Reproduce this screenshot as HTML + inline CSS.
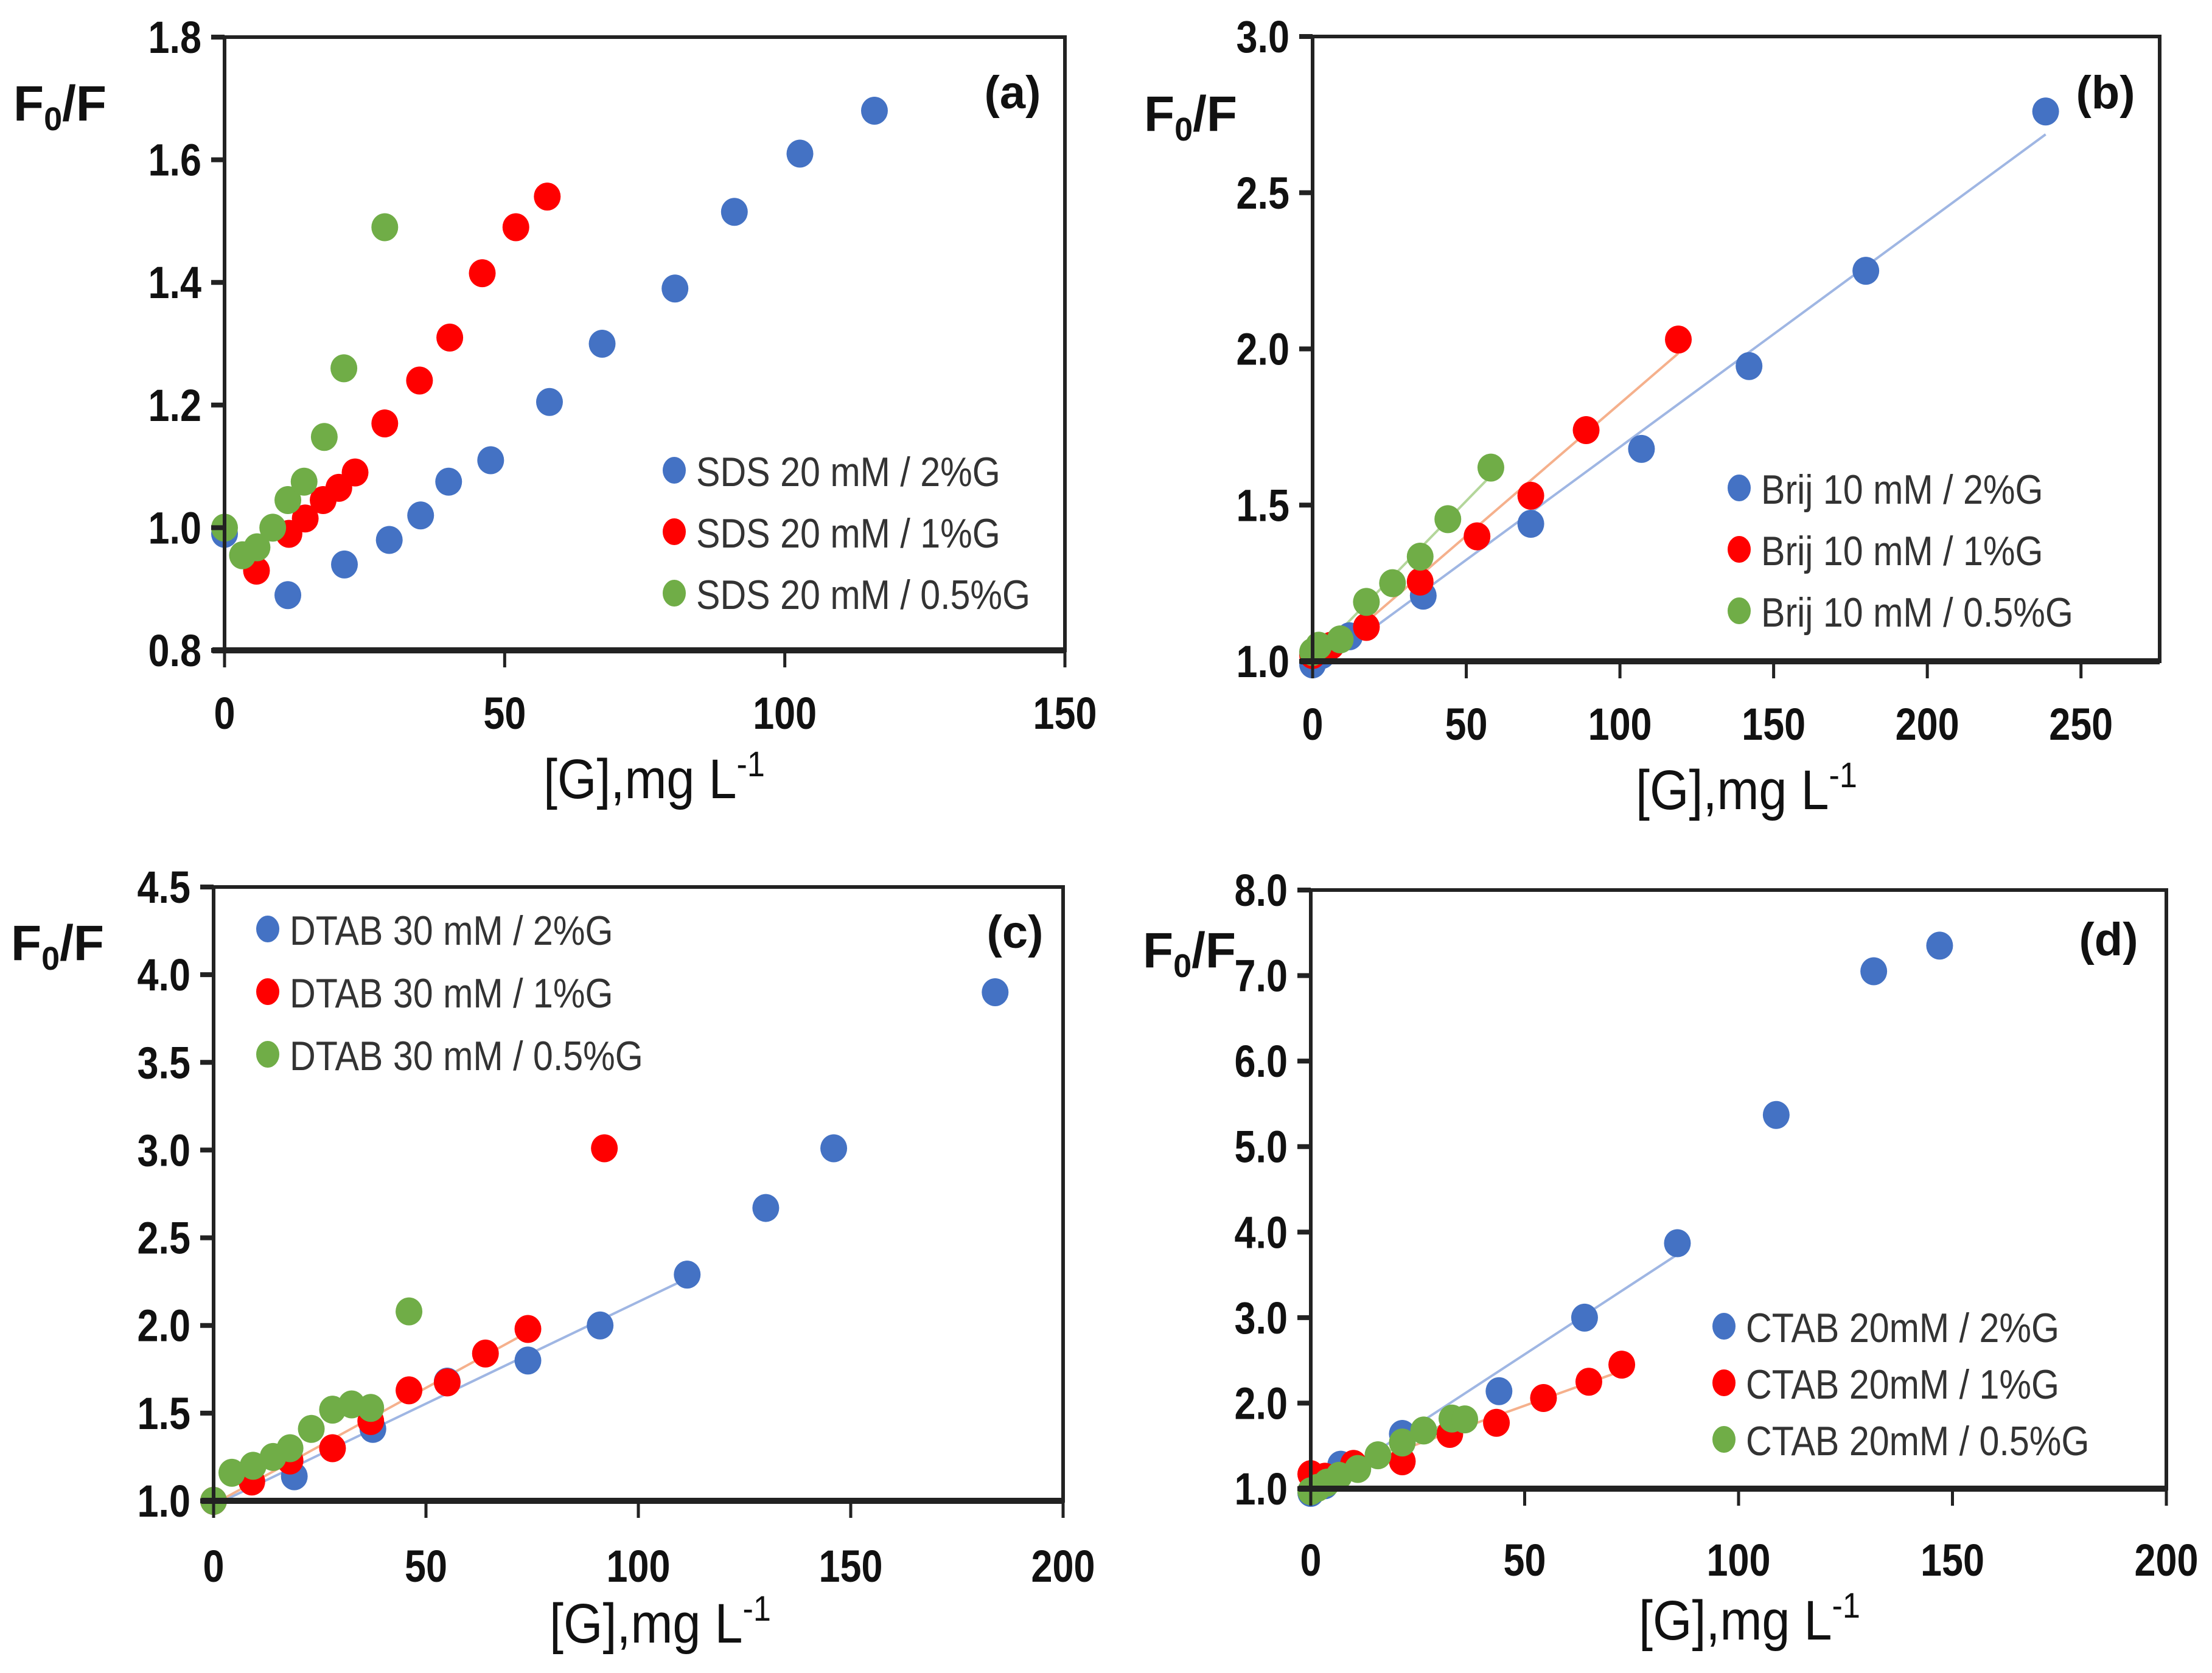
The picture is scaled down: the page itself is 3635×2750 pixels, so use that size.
<!DOCTYPE html>
<html><head><meta charset="utf-8">
<style>
html,body{margin:0;padding:0;background:#fff;}
svg{display:block;}
text{font-family:"Liberation Sans",sans-serif;fill:#111;}
.tick{font-size:74px;font-weight:bold;}
.leg{font-size:68px;fill:#333;}
.ttl{font-size:92px;}
.yl{font-size:82px;font-weight:bold;}
.pl{font-size:76px;font-weight:bold;}
</style></head>
<body>
<svg id="fig" width="3635" height="2750" viewBox="0 0 3635 2750" xmlns="http://www.w3.org/2000/svg">
<rect x="0" y="0" width="3635" height="2750" fill="#fff"/>
</svg>
<script>
// ---------- Panel (a) SDS ----------
const aLegend = ["SDS 20 mM / 2%G","SDS 20 mM / 1%G","SDS 20 mM / 0.5%G"];
const aBlueX = [0,11.3,21.4,29.4,35,40,47.5,58,67.4,80.4,91,102.7,116];
const aBlueY = [0.99,0.89,0.94,0.98,1.02,1.075,1.11,1.205,1.30,1.39,1.515,1.61,1.68];
const aRedX = [5.7,11.5,14.4,17.6,20.4,23.3,28.6,34.8,40.2,46,52,57.6];
const aRedY = [0.93,0.99,1.015,1.045,1.065,1.09,1.17,1.24,1.31,1.415,1.49,1.54];
const aGreenX = [0,3.2,5.8,8.6,11.3,14.2,17.8,21.3,28.6];
const aGreenY = [1.0,0.955,0.968,1.0,1.045,1.075,1.148,1.26,1.49];
const aXTicks = [0,50,100,150];
const aYTicks = ["0.8","1.0","1.2","1.4","1.6","1.8"];
// ---------- Panel (b) Brij ----------
const bLegend = ["Brij 10 mM / 2%G","Brij 10 mM / 1%G","Brij 10 mM / 0.5%G"];
const bBlueX = [0,3,12,36,71,107,142,180,238.5];
const bBlueY = [0.99,1.02,1.08,1.21,1.44,1.68,1.945,2.25,2.76];
const bRedX = [0,6,17.5,35,53.5,71,89,119];
const bRedY = [1.02,1.05,1.11,1.255,1.40,1.53,1.74,2.03];
const bGreenX = [0,2,9,17.5,26,35,44,58];
const bGreenY = [1.03,1.05,1.07,1.19,1.25,1.335,1.455,1.62];
const bXTicks = [0,50,100,150,200,250];
const bYTicks = ["1.0","1.5","2.0","2.5","3.0"];
// ---------- Panel (c) DTAB ----------
const cLegend = ["DTAB 30 mM / 2%G","DTAB 30 mM / 1%G","DTAB 30 mM / 0.5%G"];
const cBlueX = [0,19,37.5,55,74,91,111.5,130,146,184];
const cBlueY = [1.0,1.14,1.41,1.68,1.80,2.0,2.29,2.67,3.01,3.90];
const cRedX = [0,9,18,28,37,46,55,64,74,92];
const cRedY = [1.0,1.11,1.23,1.30,1.455,1.63,1.675,1.84,1.98,3.01];
const cGreenX = [0,4.3,9.3,14,18,23,28,32.5,37,46];
const cGreenY = [1.0,1.16,1.2,1.25,1.30,1.41,1.52,1.55,1.53,2.08];
const cXTicks = [0,50,100,150,200];
const cYTicks = ["1.0","1.5","2.0","2.5","3.0","3.5","4.0","4.5"];
// ---------- Panel (d) CTAB ----------
const dLegend = ["CTAB 20mM / 2%G","CTAB 20mM / 1%G","CTAB 20mM / 0.5%G"];
const dBlueX = [0,3.3,7,21.4,44,64,85.7,108.8,131.6,147];
const dBlueY = [0.95,1.04,1.28,1.64,2.14,3.0,3.87,5.37,7.05,7.35];
const dRedX = [0,3.3,10,21.4,32.5,43.4,54.4,65,72.7];
const dRedY = [1.17,1.14,1.29,1.32,1.64,1.77,2.06,2.25,2.45];
const dGreenX = [0,1.6,3.8,6.6,11,15.7,21.4,26.4,33,36];
const dGreenY = [0.97,1.01,1.07,1.15,1.23,1.39,1.54,1.68,1.82,1.81];
const dXTicks = [0,50,100,150,200];
const dYTicks = ["1.0","2.0","3.0","4.0","5.0","6.0","7.0","8.0"];

const NS = "http://www.w3.org/2000/svg";
const svg = document.getElementById("fig");
const BLUE="#4472C4", RED="#FF0000", GREEN="#70AD47";
const LBLUE="#9fb6e3", LRED="#f5b08c", LGREEN="#b3d69a";

function mk(tag, attrs, parent){
  const e=document.createElementNS(NS,tag);
  for(const k in attrs) e.setAttribute(k,attrs[k]);
  (parent||svg).appendChild(e); return e;
}
function condense(t,f){
  const w=t.getComputedTextLength();
  if(w>0){t.setAttribute("textLength",w*f);t.setAttribute("lengthAdjust","spacingAndGlyphs");}
}
function fit(xs,ys){
  const n=xs.length; let sx=0,sy=0,sxx=0,sxy=0;
  for(let i=0;i<n;i++){sx+=xs[i];sy+=ys[i];sxx+=xs[i]*xs[i];sxy+=xs[i]*ys[i];}
  const m=(n*sxy-sx*sy)/(n*sxx-sx*sx); return [m,(sy-m*sx)/n];
}

function panel(p){
  const g=mk("g",{});
  
  
  const X=v=>p.x0+(v-p.xmin)/(p.xmax-p.xmin)*(p.x1-p.x0);
  const Y=v=>p.y1-(v-p.ymin)/(p.ymax-p.ymin)*(p.y1-p.y0);
  p.fits.forEach(f=>{
    const xs=f.xs.slice(0,f.n), ys=f.ys.slice(0,f.n);
    const [m,b]=fit(xs,ys);
    const xa=xs[0], xb=xs[xs.length-1];
    const ln=mk("line",{x1:X(xa),y1:Y(m*xa+b),x2:X(xb),y2:Y(m*xb+b),stroke:f.c,"stroke-width":4},g);
    
    
  });
  p.series.forEach(s=>{
    const sg=mk("g",{},g);
    
    
    s.xs.forEach((xv,i)=>{
      const c=mk("ellipse",{cx:X(xv),cy:Y(s.ys[i]),rx:22,ry:23,fill:s.c},sg);
      
      
    });
  });
  const fr=mk("rect",{x:p.x0,y:p.y0,width:p.x1-p.x0,height:p.y1-p.y0,fill:"none",stroke:"#222","stroke-width":6},g);
  
  
  const ax=mk("line",{x1:p.x0-20,y1:p.y1,x2:p.x1,y2:p.y1,stroke:"#222","stroke-width":10},g);
  
  
  p.xt.forEach(v=>{
    mk("line",{x1:X(v),y1:p.y1,x2:X(v),y2:p.y1+28,stroke:"#222","stroke-width":5},g);
    const t=mk("text",{x:X(v),y:p.xly,"text-anchor":"middle",class:"tick"},g);
    t.textContent=v;
    
    
    condense(t,0.85);
  });
  p.yt.forEach(v=>{
    const yv=Y(parseFloat(v));
    mk("line",{x1:p.x0-22,y1:yv,x2:p.x0,y2:yv,stroke:"#222","stroke-width":8},g);
    const t=mk("text",{x:p.x0-38,y:yv+26,"text-anchor":"end",class:"tick"},g);
    t.textContent=v;
    
    
    condense(t,0.85);
  });
  const yt=mk("text",{x:p.ylx,y:p.yly,class:"yl"},g);
  yt.innerHTML='F<tspan font-size="54" dy="16">0</tspan><tspan dy="-16">/F</tspan>';
  
  
  const xt=mk("text",{x:p.xtx,y:p.xty,"text-anchor":"middle",class:"ttl"},g);
  xt.innerHTML='[G],mg L<tspan font-size="58" dy="-36">-1</tspan>';
  
  
  condense(xt,0.9);
  const pl=mk("text",{x:p.plx,y:p.ply,"text-anchor":"middle",class:"pl"},g);
  pl.textContent="("+p.id+")";
  
  
  const cols=[BLUE,RED,GREEN];
  p.legend.forEach((lab,i)=>{
    const ly=p.legY+i*p.legDy;
    const lg=mk("g",{},g);
    
    
    mk("ellipse",{cx:p.legX,cy:ly,rx:19,ry:22,fill:cols[i]},lg);
    const t=mk("text",{x:p.legX+36,y:ly+26,class:"leg"},lg);
    t.textContent=lab;
    condense(t,0.87);
  });
}

panel({id:"a",x0:369,x1:1750,y0:61,y1:1069,xmin:0,xmax:150,ymin:0.8,ymax:1.8,
  xt:aXTicks,yt:aYTicks,xly:1198,ylx:22,yly:198,xtx:1075,xty:1312,plx:1664,ply:178,
  legend:aLegend,legX:1108,legY:773,legDy:101,fits:[],
  series:[{name:"sds-2pct",xs:aBlueX,ys:aBlueY,c:BLUE},{name:"sds-1pct",xs:aRedX,ys:aRedY,c:RED},{name:"sds-0.5pct",xs:aGreenX,ys:aGreenY,c:GREEN}]});
panel({id:"b",x0:2157,x1:3549,y0:60,y1:1087,xmin:0,xmax:275.6,ymin:1.0,ymax:3.0,
  xt:bXTicks,yt:bYTicks,xly:1216,ylx:1880,yly:215,xtx:2870,xty:1330,plx:3460,ply:178,
  legend:bLegend,legX:2858,legY:802,legDy:101,
  fits:[{name:"brij-2pct",xs:bBlueX,ys:bBlueY,n:9,c:LBLUE},{name:"brij-1pct",xs:bRedX,ys:bRedY,n:8,c:LRED},{name:"brij-0.5pct",xs:bGreenX,ys:bGreenY,n:8,c:LGREEN}],
  series:[{name:"brij-2pct",xs:bBlueX,ys:bBlueY,c:BLUE},{name:"brij-1pct",xs:bRedX,ys:bRedY,c:RED},{name:"brij-0.5pct",xs:bGreenX,ys:bGreenY,c:GREEN}]});
panel({id:"c",x0:351,x1:1747,y0:1458,y1:2467,xmin:0,xmax:200,ymin:1.0,ymax:4.5,
  xt:cXTicks,yt:cYTicks,xly:2600,ylx:18,yly:1578,xtx:1085,xty:2700,plx:1668,ply:1558,
  legend:cLegend,legX:440,legY:1527,legDy:103,
  fits:[{name:"dtab-2pct",xs:cBlueX,ys:cBlueY,n:7,c:LBLUE},{name:"dtab-1pct",xs:cRedX,ys:cRedY,n:9,c:LRED}],
  series:[{name:"dtab-2pct",xs:cBlueX,ys:cBlueY,c:BLUE},{name:"dtab-1pct",xs:cRedX,ys:cRedY,c:RED},{name:"dtab-0.5pct",xs:cGreenX,ys:cGreenY,c:GREEN}]});
panel({id:"d",x0:2154,x1:3560,y0:1463,y1:2447,xmin:0,xmax:200,ymin:1.0,ymax:8.0,
  xt:dXTicks,yt:dYTicks,xly:2590,ylx:1878,yly:1590,xtx:2875,xty:2695,plx:3465,ply:1570,
  legend:dLegend,legX:2833,legY:2180,legDy:93,
  fits:[{name:"ctab-2pct",xs:dBlueX,ys:dBlueY,n:7,c:LBLUE},{name:"ctab-1pct",xs:dRedX,ys:dRedY,n:9,c:LRED},{name:"ctab-0.5pct",xs:dGreenX,ys:dGreenY,n:10,c:LGREEN}],
  series:[{name:"ctab-2pct",xs:dBlueX,ys:dBlueY,c:BLUE},{name:"ctab-1pct",xs:dRedX,ys:dRedY,c:RED},{name:"ctab-0.5pct",xs:dGreenX,ys:dGreenY,c:GREEN}]});
</script>
</body></html>
